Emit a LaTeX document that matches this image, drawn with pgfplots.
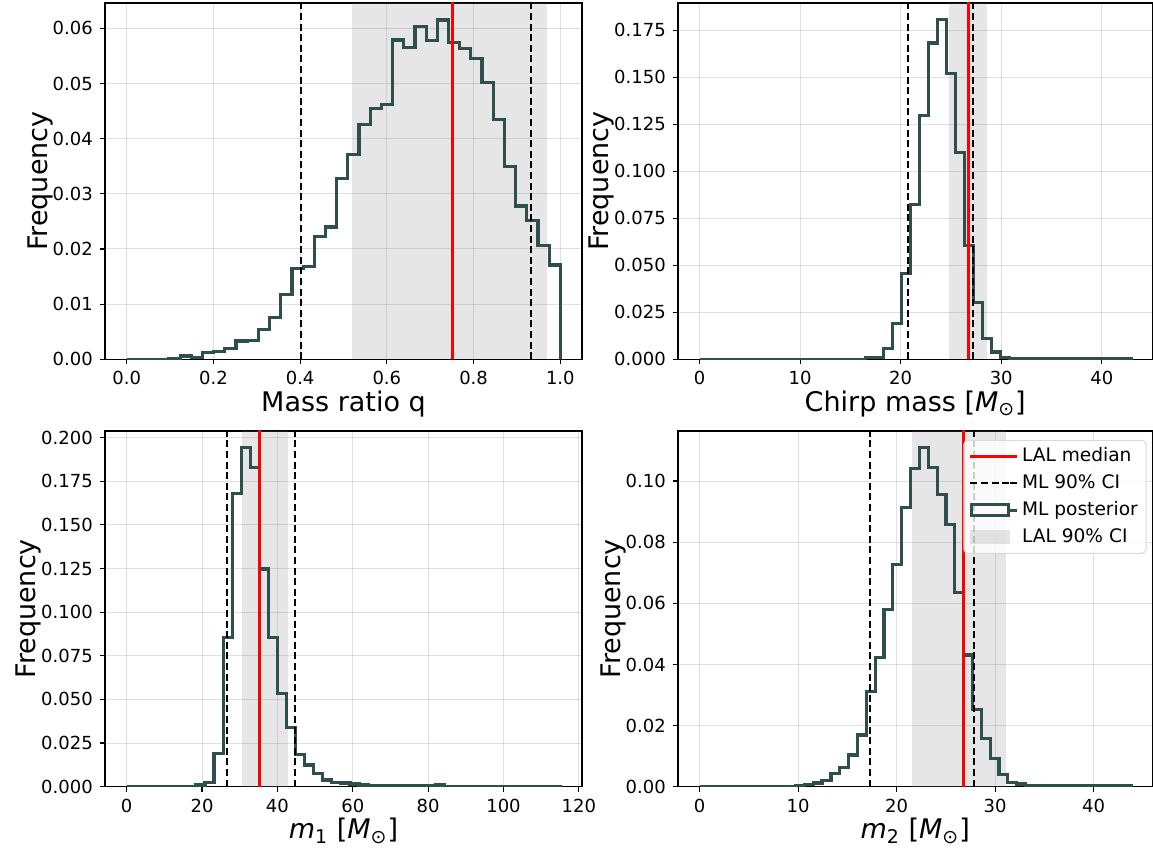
\documentclass[border=0pt]{standalone}
\usepackage{fontspec}
\setmainfont{DejaVu Sans}
\usepackage{pgfplots}
\pgfplotsset{compat=1.18}
\definecolor{histc}{HTML}{2F4F4F}
\pgfplotsset{
  legline/.style={legend image code/.code={\draw[sharp corners,##1] (0pt,0pt) -- (19.75pt,0pt); \path (19.75pt,0pt) -- (23.5pt,0pt);}},
  legbox/.style={legend image code/.code={\draw[sharp corners,##1] (0.75pt,-2.75pt) rectangle (19pt,2.75pt); \path (19.75pt,0pt) -- (23.5pt,0pt);}},
  legpatch/.style={legend image code/.code={\path[sharp corners, draw=none, fill=gray, fill opacity=0.2] (0pt,-3.5pt) rectangle (19.75pt,3.5pt); \path (19.75pt,0pt) -- (23.5pt,0pt);}},
  panel/.style={
    scale only axis,
    axis line style={line width=0.6pt, black},
    every tick/.style={black, line width=0.6pt},
    major tick length=2.6pt,
    tick align=outside,
    xtick pos=left, ytick pos=left,
    grid=major,
    major grid style={line width=0.5pt, black, opacity=0.12},
    ticklabel style={font=\fontsize{9}{10}\selectfont},
    label style={font=\fontsize{13.5}{15}\selectfont},
    ylabel shift=-7pt,
    xlabel shift=-4pt,
    /pgf/number format/assume math mode=true,
    scaled y ticks=false, scaled x ticks=false,
    ymin=0,
    ylabel={Frequency},
  },
  hist/.style={const plot mark left, color=histc, line width=1.6pt, line join=miter},
  band/.style={draw=none, fill=gray, fill opacity=0.2},
  med/.style={red, line width=1.5pt},
  ci/.style={black, line width=1pt, dash pattern=on 3.5pt off 1.8pt},
}
\begin{document}
\begin{tikzpicture}
\useasboundingbox (0,0) rectangle (576.5pt,427pt);
% ---------------- Panel 1: mass ratio
\begin{axis}[panel, at={(52.5pt,247.35pt)}, anchor=south west,
  width=238.5pt, height=178.15pt,
  xmin=-0.05, xmax=1.05, ymax=0.0646,
  xtick={0,0.2,...,1.0}, ytick={0,0.01,...,0.06},
  xticklabel style={/pgf/number format/.cd, fixed, fixed zerofill, precision=1},
  yticklabel style={/pgf/number format/.cd, fixed, fixed zerofill, precision=2},
  xlabel={Mass ratio q}]
\addplot[band] coordinates {(0.520,0.0646) (0.970,0.0646)} \closedcycle;
\addplot[hist] coordinates {(0,0) (0.0974,0.0002) (0.1232,0.0006) (0.1490,0.0003) (0.1748,0.0012) (0.2006,0.0014) (0.2264,0.0019) (0.2521,0.0033) (0.2779,0.0034) (0.3037,0.0054) (0.3295,0.0076) (0.3553,0.0117) (0.3811,0.0165) (0.4069,0.0168) (0.4327,0.0223) (0.4585,0.0240) (0.4843,0.0328) (0.5100,0.0371) (0.5358,0.0426) (0.5616,0.0455) (0.5874,0.0462) (0.6132,0.0579) (0.6390,0.0566) (0.6648,0.0604) (0.6906,0.0578) (0.7164,0.0615) (0.7422,0.0574) (0.7679,0.0564) (0.7937,0.0546) (0.8195,0.0502) (0.8453,0.0435) (0.8711,0.0349) (0.8969,0.0278) (0.9227,0.0251) (0.9485,0.0206) (0.9742,0.0171) (1.0,0)};
\addplot[ci] coordinates {(0.4017,0) (0.4017,0.07)};
\addplot[ci] coordinates {(0.9316,0) (0.9316,0.07)};
\addplot[med] coordinates {(0.752,0) (0.752,0.07)};
\end{axis}
% ---------------- Panel 2: chirp mass
\begin{axis}[panel, at={(339pt,247.35pt)}, anchor=south west,
  width=237.25pt, height=178.15pt,
  xmin=-2.145, xmax=45.045, ymax=0.1896,
  xtick={0,10,...,40}, ytick={0,0.025,...,0.176},
  yticklabel style={/pgf/number format/.cd, fixed, fixed zerofill, precision=3},
  xlabel={Chirp mass [\textit{M}\textsubscript{⊙}]}]
\addplot[band] coordinates {(24.78,0.1896) (28.57,0.1896)} \closedcycle;
\addplot[hist] coordinates {(0,0) (16.52,0.0008) (17.42,0.0011) (18.31,0.0057) (19.21,0.019) (20.10,0.0458) (21.0,0.0824) (21.89,0.1296) (22.79,0.1683) (23.69,0.181) (24.58,0.152) (25.48,0.110) (26.37,0.0605) (27.27,0.0303) (28.16,0.0112) (29.06,0.0039) (29.95,0.0011) (30.85,0.0002) (42.9,0)};
\addplot[ci] coordinates {(20.70,0) (20.70,0.2)};
\addplot[ci] coordinates {(27.15,0) (27.15,0.2)};
\addplot[med] coordinates {(26.72,0) (26.72,0.2)};
\end{axis}
% ---------------- Panel 3: m1
\begin{axis}[panel, at={(52.5pt,33.65pt)}, anchor=south west,
  width=238.5pt, height=177.85pt,
  xmin=-5.754, xmax=120.834, ymax=0.2038,
  xtick={0,20,...,120}, ytick={0,0.025,...,0.201},
  yticklabel style={/pgf/number format/.cd, fixed, fixed zerofill, precision=3},
  xlabel={\textit{m}\textsubscript{1} [\textit{M}\textsubscript{⊙}]}]
\addplot[band] coordinates {(30.61,0.2038) (42.86,0.2038)} \closedcycle;
\addplot[hist] coordinates {(0,0) (18.37,0.001) (20.78,0.0025) (23.18,0.0191) (25.59,0.0854) (27.99,0.168) (30.40,0.1945) (32.80,0.183) (35.21,0.1247) (37.61,0.0856) (40.02,0.0535) (42.42,0.034) (44.83,0.0185) (47.23,0.0124) (49.64,0.0076) (52.04,0.0038) (54.45,0.0025) (56.85,0.0021) (59.26,0.0015) (61.66,0.001) (64.07,0.0008) (73.69,0.0004) (81.9,0.001) (84.3,0.0003) (115.08,0)};
\addplot[ci] coordinates {(26.71,0) (26.71,0.21)};
\addplot[ci] coordinates {(44.54,0) (44.54,0.21)};
\addplot[med] coordinates {(35.23,0) (35.23,0.21)};
\end{axis}
% ---------------- Panel 4: m2
\begin{axis}[panel, at={(339pt,33.65pt)}, anchor=south west,
  width=237.25pt, height=177.85pt,
  xmin=-2.189, xmax=45.969, ymax=0.1164,
  xtick={0,10,...,40}, ytick={0,0.02,...,0.101},
  yticklabel style={/pgf/number format/.cd, fixed, fixed zerofill, precision=2},
  xlabel={\textit{m}\textsubscript{2} [\textit{M}\textsubscript{⊙}]},
  legend cell align=left,
  legend style={at={(rel axis cs:1,1)}, anchor=north east, xshift=-3pt, yshift=-4.5pt,
    draw=black!15, line width=0.5pt, rounded corners=2pt, fill=white, fill opacity=0.8,
    draw opacity=1, text opacity=1, font=\fontsize{9.3}{11}\selectfont,
    inner xsep=2.5pt, inner ysep=2pt, row sep=1.2pt,
    nodes={inner sep=1.6pt, text height=7pt, text depth=2pt}}]
\addplot[band, forget plot] coordinates {(21.54,0.1164) (31.06,0.1164)} \closedcycle;
\addplot[hist, forget plot] coordinates {(0,0) (9.74,0.0003) (10.64,0.0007) (11.54,0.0012) (12.43,0.0021) (13.33,0.0044) (14.23,0.0062) (15.13,0.0104) (16.03,0.0169) (16.92,0.0311) (17.82,0.0423) (18.72,0.0581) (19.62,0.0727) (20.52,0.0913) (21.41,0.1041) (22.31,0.1109) (23.21,0.1044) (24.11,0.0957) (25.01,0.0858) (25.90,0.0635) (26.80,0.0431) (27.70,0.0253) (28.60,0.0158) (29.50,0.0093) (30.39,0.0040) (31.29,0.0013) (32.19,0.0009) (33.09,0.0004) (33.99,0.0002) (43.78,0)};
\addplot[ci, forget plot] coordinates {(17.26,0) (17.26,0.12)};
\addplot[ci, forget plot] coordinates {(27.90,0) (27.90,0.12)};
\addplot[med, forget plot] coordinates {(26.74,0) (26.74,0.12)};
\addlegendimage{med, legline}
\addlegendentry{LAL median}
\addlegendimage{ci, legline}
\addlegendentry{ML 90\% CI}
\addlegendimage{draw=histc, line width=1.5pt, fill=none, legbox}
\addlegendentry{ML posterior}
\addlegendimage{draw=none, legpatch}
\addlegendentry{LAL 90\% CI}
\end{axis}
\end{tikzpicture}
\end{document}
